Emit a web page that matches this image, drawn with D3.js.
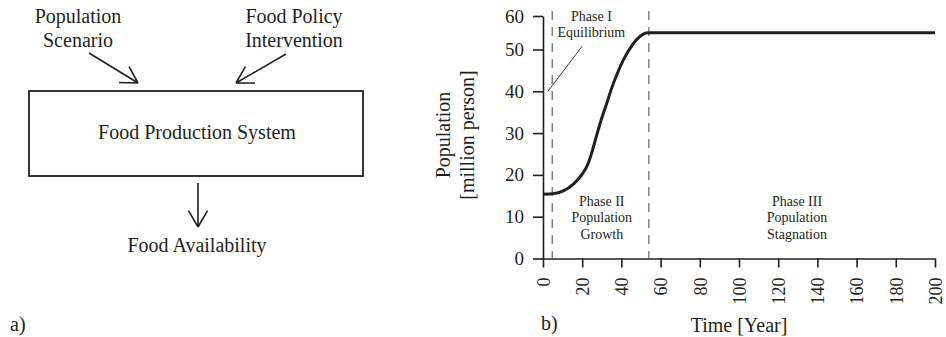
<!DOCTYPE html>
<html>
<head>
<meta charset="utf-8">
<script src="https://cdn.jsdelivr.net/npm/d3@7"></script>
<style>
  body { margin: 0; background: #fff; }
  svg text { font-family: "Liberation Serif", "Times New Roman", serif; fill: #231f20; }
</style>
</head>
<body>
<svg id="chart" width="946" height="337"></svg>
<script>
// panel b) population curve
const years = [0, 5, 10.4, 15.5, 19.7, 23.1, 24.8, 27.4, 29.9, 32.5, 35, 37.6, 41, 44.4, 47.8, 51.2, 53.7, 200];
const population = [15.4, 15.5, 16.2, 17.8, 20.0, 22.8, 25.2, 29.5, 33.5, 37.1, 40.7, 43.9, 47.5, 50.35, 53.0, 54.6, 55.0, 55.0];
const phaseBounds = [4.7, 54];
const xTicks = [0, 20, 40, 60, 80, 100, 120, 140, 160, 180, 200];
const yTicks = [0, 10, 20, 30, 40, 50, 60];
const phaseLabels = [
  { t: 24.7, lines: ["Phase I", "Equilibrium"], top: true },
  { t: 30, lines: ["Phase II", "Population", "Growth"] },
  { t: 129.6, lines: ["Phase III", "Population", "Stagnation"] }
];
// leader line from the y axis up to "Equilibrium"
const leader = [[2.5, 40], [20, 51]];

// panel a) text
const inputs = [["Population", "Scenario"], ["Food Policy", "Intervention"]];
const systemLabel = "Food Production System";
const outputLabel = "Food Availability";

const ink = "#231f20";
const svg = d3.select("#chart");

// ---------- panel a) block diagram ----------
const a = svg.append("g");

a.append("rect")
  .attr("x", 29).attr("y", 91)
  .attr("width", 334).attr("height", 85)
  .attr("fill", "none").attr("stroke", ink).attr("stroke-width", 1.8);

a.append("text").attr("x", 197).attr("y", 139)
  .attr("text-anchor", "middle").attr("font-size", 20)
  .text(systemLabel);

a.append("text").attr("x", 197).attr("y", 252)
  .attr("text-anchor", "middle").attr("font-size", 20)
  .text(outputLabel);

[78, 294].forEach((cx, i) => {
  const t = a.append("text").attr("text-anchor", "middle").attr("font-size", 20);
  inputs[i].forEach((line, j) => {
    t.append("tspan").attr("x", cx).attr("y", 23 + j * 24).text(line);
  });
});

function arrow(g, x1, y1, x2, y2) {
  const ang = Math.atan2(y1 - y2, x1 - x2);
  const len = 19;
  const path = d3.path();
  path.moveTo(x1, y1);
  path.lineTo(x2, y2);
  [-Math.PI / 6, Math.PI / 6].forEach(d => {
    path.moveTo(x2, y2);
    path.lineTo(x2 + len * Math.cos(ang + d), y2 + len * Math.sin(ang + d));
  });
  g.append("path").attr("d", path.toString())
    .attr("fill", "none").attr("stroke", ink).attr("stroke-width", 1.6);
}

arrow(a, 89, 53, 138, 83);
arrow(a, 286, 54, 236, 83);
arrow(a, 198, 183, 198, 227);

a.append("text").attr("x", 10).attr("y", 331).attr("font-size", 20).text("a)");

// ---------- panel b) population chart ----------
const x = d3.scaleLinear().domain([0, 200]).range([543, 935]);
// the 50-60 band is squeezed in the source figure
const y = d3.scaleLinear().domain([0, 50, 60]).range([258.5, 49.5, 16]);

const b = svg.append("g");

// phase boundaries
b.selectAll(".bound").data(phaseBounds).join("line")
  .attr("x1", d => x(d)).attr("x2", d => x(d))
  .attr("y1", 11).attr("y2", y(0))
  .attr("stroke", "#666").attr("stroke-width", 1.2)
  .attr("stroke-dasharray", "9,7");

const yAxis = b.append("g")
  .attr("transform", `translate(${x(0)},0)`)
  .call(d3.axisLeft(y).tickValues(yTicks).tickSize(10).tickSizeOuter(0).tickPadding(9));
yAxis.selectAll("text").attr("font-size", 19).attr("font-family", null);

const xAxis = b.append("g")
  .attr("transform", `translate(0,${y(0)})`)
  .call(d3.axisBottom(x).tickValues(xTicks).tickSize(9).tickSizeOuter(0));
xAxis.selectAll("text")
  .attr("font-size", 18).attr("font-family", null)
  .attr("text-anchor", "end")
  .attr("transform", "rotate(-90)")
  .attr("x", -19).attr("y", 0).attr("dy", "0.35em");

[yAxis, xAxis].forEach(ax => {
  ax.selectAll("path, line").attr("stroke", ink).attr("stroke-width", 1.6);
});

const line = d3.line()
  .x((d, i) => x(years[i]))
  .y(d => y(d))
  .curve(d3.curveMonotoneX);

b.append("path").datum(population)
  .attr("d", line)
  .attr("fill", "none").attr("stroke", ink).attr("stroke-width", 3);

b.append("line")
  .attr("x1", x(leader[0][0])).attr("y1", y(leader[0][1]))
  .attr("x2", x(leader[1][0])).attr("y2", y(leader[1][1]))
  .attr("stroke", ink).attr("stroke-width", 0.9);

phaseLabels.forEach(p => {
  const t = b.append("text").attr("text-anchor", "middle").attr("font-size", 14);
  p.lines.forEach((l, j) => {
    t.append("tspan").attr("x", x(p.t))
      .attr("y", (p.top ? 20.7 : 205.7) + j * 16.5).text(l);
  });
});

// axis titles
b.append("text")
  .attr("transform", "translate(450,135) rotate(-90)")
  .attr("text-anchor", "middle").attr("font-size", 20)
  .text("Population");
b.append("text")
  .attr("transform", "translate(474,135) rotate(-90)")
  .attr("text-anchor", "middle").attr("font-size", 20)
  .text("[million person]");
b.append("text")
  .attr("x", (x(0) + x(200)) / 2).attr("y", 332)
  .attr("text-anchor", "middle").attr("font-size", 20)
  .text("Time [Year]");

b.append("text").attr("x", 541).attr("y", 330).attr("font-size", 20).text("b)");
</script>
</body>
</html>
